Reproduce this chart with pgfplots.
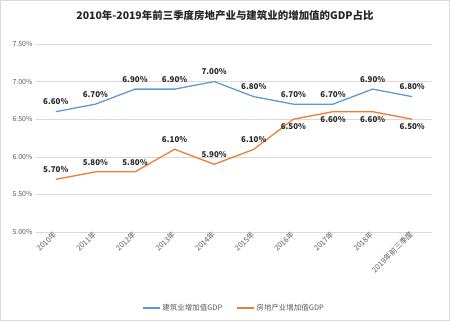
\documentclass[border=0pt]{standalone}
\usepackage{pgfplots}
\pgfplotsset{compat=1.18}
\usepackage{fontspec}
\setmainfont{Noto Sans CJK SC}
\definecolor{cblue}{HTML}{5B9BD5}
\definecolor{corange}{HTML}{ED7D31}
\definecolor{cgrid}{HTML}{D9D9D9}
\definecolor{ctick}{HTML}{595959}
\begin{document}
\begin{tikzpicture}
\path[use as bounding box] (0,0) rectangle (450bp,321bp);
\draw[cgrid, line width=0.6pt] (0.5bp,0.5bp) rectangle (449.5bp,320.5bp);
\node[font=\fontsize{10.5}{12}\selectfont\bfseries, text=black!85] at (225bp,305bp) {2010年-2019年前三季度房地产业与建筑业的增加值的GDP占比};
\begin{axis}[
  at={(36bp,89bp)}, anchor=south west,
  scale only axis, width=396bp, height=188bp,
  xmin=-0.5, xmax=9.5, ymin=5, ymax=7.5,
  ytick={5,5.5,6,6.5,7,7.5},
  xtick={0,...,9},
  xticklabels={2010年,2011年,2012年,2013年,2014年,2015年,2016年,2017年,2018年,2019年前三季度},
  xticklabel style={rotate=45, anchor=east, font=\fontsize{7.5}{8}\selectfont, text=ctick, inner sep=1pt},
  yticklabel style={font=\fontsize{7}{8}\selectfont, text=ctick},
  /pgf/number format/assume math mode=true,
  yticklabel={\pgfmathprintnumber[fixed,fixed zerofill,precision=2]{\tick}\%},
  ymajorgrids, grid style={cgrid, line width=0.6pt},
  axis line style={draw=none},
  major tick length=0pt,
  legend style={at={(0.5,-0.404)}, anchor=center, draw=none, legend columns=2,
    font=\fontsize{7.5}{9}\selectfont, text=ctick,
    /tikz/every even column/.append style={column sep=12bp}},
  legend image code/.code={\draw[#1] (0bp,0bp) -- (17bp,0bp);},
  clip=false,
]
\addplot[cblue, line width=1.3pt, mark=none,
  nodes near coords={\pgfmathprintnumber[fixed,fixed zerofill,precision=2]{\pgfplotspointmeta}\%},
  every node near coord/.append style={font=\fontsize{8}{9}\selectfont\bfseries, text=black!85, yshift=3bp},
  nodes near coords align={above}]
  coordinates {(0,6.6) (1,6.7) (2,6.9) (3,6.9) (4,7.0) (5,6.8) (6,6.7) (7,6.7) (8,6.9) (9,6.8)};
\addlegendentry{建筑业增加值GDP}
\addplot[corange, line width=1.3pt, mark=none]
  coordinates {(0,5.7) (1,5.8) (2,5.8) (3,6.1) (4,5.9) (5,6.1) (6,6.5) (7,6.6) (8,6.6) (9,6.5)};
\addlegendentry{房地产业增加值GDP}
\addplot[draw=none, mark=none, forget plot,
  nodes near coords={\pgfmathprintnumber[fixed,fixed zerofill,precision=2]{\pgfplotspointmeta}\%},
  every node near coord/.append style={font=\fontsize{8}{9}\selectfont\bfseries, text=black!85, yshift=3bp},
  nodes near coords align={above}]
  coordinates {(0,5.7) (1,5.8) (2,5.8) (3,6.1) (4,5.9) (5,6.1)};
\addplot[draw=none, mark=none, forget plot,
  nodes near coords={\pgfmathprintnumber[fixed,fixed zerofill,precision=2]{\pgfplotspointmeta}\%},
  every node near coord/.append style={font=\fontsize{8}{9}\selectfont\bfseries, text=black!85, yshift=-1bp},
  nodes near coords align={below}]
  coordinates {(6,6.5) (7,6.6) (8,6.6) (9,6.5)};
\end{axis}
\end{tikzpicture}
\end{document}
